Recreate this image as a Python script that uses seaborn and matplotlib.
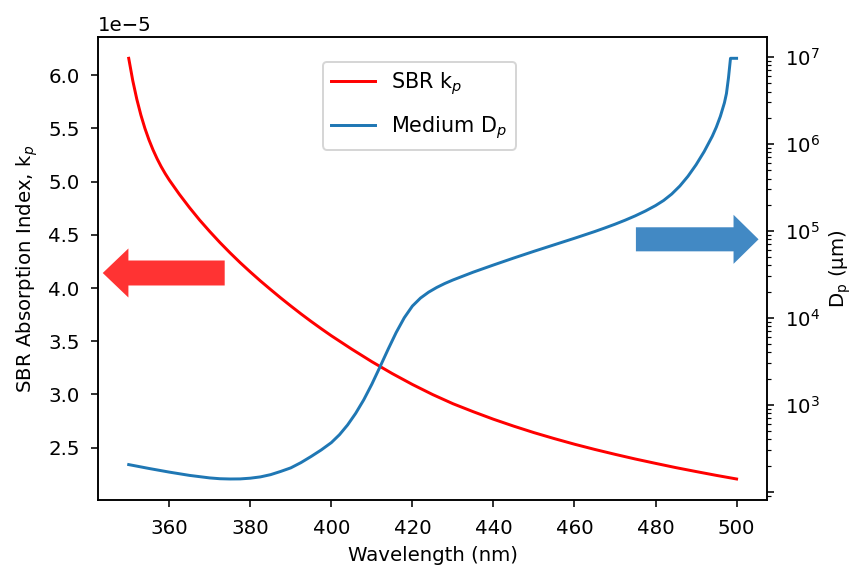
import matplotlib
matplotlib.use("Agg")
import matplotlib.pyplot as plt
from matplotlib.patches import FancyArrow
import seaborn as sns

# SBR absorption index k_p versus wavelength (nm)
kp_wavelength = [350, 351, 352, 353, 354, 355, 356, 357, 358, 359, 360,
                 362.5, 365, 367.5, 370, 372.5, 375, 377.5, 380, 382.5, 385,
                 387.5, 390, 392.5, 395, 397.5, 400, 405, 410, 415, 420, 425,
                 430, 435, 440, 445, 450, 455, 460, 465, 470, 475, 480, 485,
                 490, 495, 500]
kp_values = [6.160e-5, 5.950e-5, 5.775e-5, 5.627e-5, 5.501e-5, 5.393e-5,
             5.299e-5, 5.216e-5, 5.142e-5, 5.076e-5, 5.016e-5, 4.881e-5,
             4.756e-5, 4.639e-5, 4.531e-5, 4.428e-5, 4.331e-5, 4.2385e-5,
             4.151e-5, 4.0665e-5, 3.986e-5, 3.907e-5, 3.831e-5, 3.757e-5,
             3.686e-5, 3.6175e-5, 3.551e-5, 3.426e-5, 3.307e-5, 3.196e-5,
             3.093e-5, 2.998e-5, 2.912e-5, 2.837e-5, 2.766e-5, 2.701e-5,
             2.640e-5, 2.584e-5, 2.531e-5, 2.482e-5, 2.436e-5, 2.392e-5,
             2.351e-5, 2.311e-5, 2.274e-5, 2.238e-5, 2.204e-5]

# Penetration depth D_p of the medium (um) versus wavelength (nm)
dp_wavelength = [350, 355, 360, 365, 370, 372.5, 375, 377.5, 380, 382.5,
                 385, 387.5, 390, 392.5, 395, 397.5, 400, 402, 404, 406, 408,
                 410, 412, 414, 416, 418, 420, 422, 424, 426, 428, 430, 435,
                 440, 445, 450, 455, 460, 465, 467.5, 470, 472.5, 475, 477.5,
                 480, 482, 484, 486, 488, 490, 492, 494, 495, 496, 497, 497.5,
                 498, 498.5, 500]
dp_values = [205, 185, 168, 154, 144, 141, 140, 140.3, 143, 148,
             157, 171, 188, 216, 254, 302, 367, 452, 585, 796, 1140,
             1726, 2723, 4335, 6776, 10020, 13650, 16870, 19720, 22340,
             24830, 27230, 33500, 40500, 48700, 58210, 69180, 82220, 98290,
             108090, 119340, 132740, 148940, 169250,
             195430, 223870, 265460, 328100, 424620, 575440, 816580,
             1224600, 1559600, 2079700, 2971700, 3801900,
             5754400, 9661000, 9661000]

dp_ticks = [1e2, 1e3, 1e4, 1e5, 1e6, 1e7]
dp_tick_labels = ["", "$\\mathdefault{10^{3}}$", "$\\mathdefault{10^{4}}$",
                  "$\\mathdefault{10^{5}}$", "$\\mathdefault{10^{6}}$",
                  "$\\mathdefault{10^{7}}$"]

fig = plt.figure(figsize=(6.0, 3.979), dpi=142)
ax = fig.add_axes([0.1154, 0.115, 0.9002 - 0.1154, 0.934 - 0.115])
ax2 = ax.twinx()

sns.lineplot(x=kp_wavelength, y=kp_values, ax=ax, color="red",
             label="SBR k$_p$", legend=False)
sns.lineplot(x=dp_wavelength, y=dp_values, ax=ax2, color="#1f77b4",
             label="Medium D$_p$", legend=False)
ax2.set_yscale("log")
ax2.set_yticks(dp_ticks, dp_tick_labels)

ax.set_xlabel("Wavelength (nm)")
ax.set_ylabel("SBR Absorption Index, k$_p$")
ax2.set_ylabel("D$_{\\rm p}$ (μm)")

ax.tick_params(axis="x", pad=6)
ax.tick_params(axis="y", pad=6)
ax2.tick_params(axis="y", which="both", pad=5.5)

# Arrows showing which axis each curve belongs to
ax.add_patch(FancyArrow(0.189, 0.4906, -0.144, 0, width=0.054,
                        head_width=0.106, head_length=0.0384,
                        length_includes_head=False, transform=ax.transAxes,
                        color="#ff3333", linewidth=0, zorder=1))
ax2.add_patch(FancyArrow(0.804, 0.5634, 0.146, 0, width=0.052,
                         head_width=0.106, head_length=0.0374,
                         length_includes_head=False, transform=ax2.transAxes,
                         color="#4289c4", linewidth=0, zorder=1))

lines = ax.get_lines() + ax2.get_lines()
ax.legend(lines, [l.get_label() for l in lines], loc="upper left",
          bbox_to_anchor=(0.336, 0.947), borderaxespad=0,
          fontsize=10.5, labelspacing=0.85, handlelength=2.1)

fig.savefig("out.png", dpi=142)
